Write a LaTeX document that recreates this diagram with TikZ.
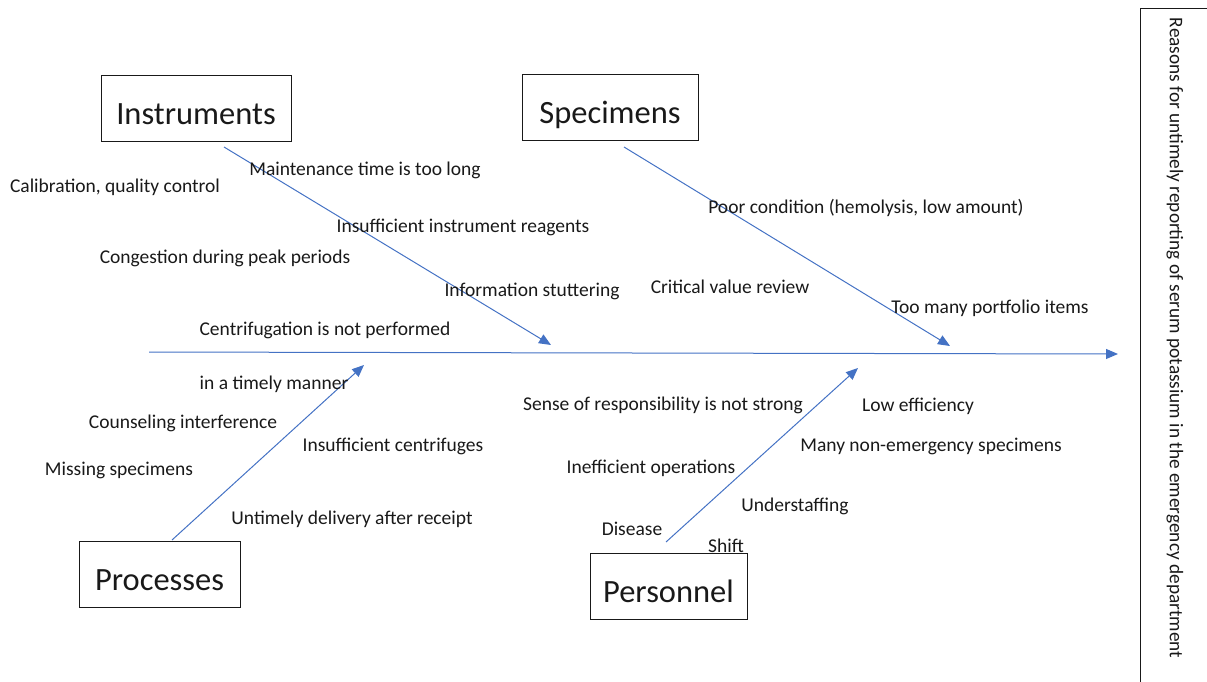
\documentclass[tikz,border=0pt]{standalone}
\usepackage{fontspec}
\setmainfont{Carlito}
\usetikzlibrary{arrows.meta}
\definecolor{fbblue}{RGB}{68,114,196}
\definecolor{txt}{RGB}{25,25,25}
\begin{document}
\begin{tikzpicture}[x=1pt,y=-1pt,
  cat/.style={draw=txt,line width=0.9pt,minimum height=66pt,inner sep=0pt,text height=34pt,text depth=1pt,text=txt,font=\fontsize{32.5}{38}\selectfont},
  lbl/.style={text=txt,inner sep=0pt,font=\fontsize{19.5}{23}\selectfont},
  bone/.style={draw=fbblue,line width=1pt,-{Triangle[length=12pt,width=10pt]}}]
\useasboundingbox (0,0) rectangle (1207,682);
% category boxes
\node[cat,minimum width=190pt] (instr) at (196,108) {Instruments};
\node[cat,minimum width=176pt] (spec) at (610,107.5) {Specimens};
\node[cat,minimum width=161pt] (proc) at (159.5,574) {Processes};
\node[cat,minimum width=157pt] (pers) at (668.5,586) {Personnel};
% effect box
\draw[txt,line width=0.9pt] (1207,8) -- (1140,8) -- (1140,682);
\node[lbl,rotate=-90,font=\fontsize{19.3}{23}\selectfont] (effect) at (1175,338) {Reasons for untimely reporting of serum potassium in the emergency department};
% spine
\coordinate (s0) at (149,352);
\coordinate (s1) at (1118,354);
\draw[bone] (s0) -- (s1);
% bones
\coordinate (i0) at (224,147);  \coordinate (i1) at (551,345);
\coordinate (p0) at (624,147);  \coordinate (p1) at (950,346);
\coordinate (r0) at (172,540);  \coordinate (r1) at (364,365);
\coordinate (e0) at (666,542);  \coordinate (e1) at (858,368);
\draw[bone] (i0) -- (i1);
\draw[bone] (p0) -- (p1);
\draw[bone] (r0) -- (r1);
\draw[bone] (e0) -- (e1);
% labels
\node[lbl] (l1) at (115,187) {Calibration, quality control};
\node[lbl] (l2) at (365,170) {Maintenance time is too long};
\node[lbl] (l3) at (463,227) {Insufficient instrument reagents};
\node[lbl] (l4) at (225,258) {Congestion during peak periods};
\node[lbl] (l5) at (532,291) {Information stuttering};
\node[lbl] (l6) at (325,330) {Centrifugation is not performed};
\node[lbl] (l7) at (274,384) {in a timely manner};
\node[lbl] (l8) at (183,423) {Counseling interference};
\node[lbl] (l9) at (119,470) {Missing specimens};
\node[lbl] (l10) at (393,446) {Insufficient centrifuges};
\node[lbl] (l11) at (352,519) {Untimely delivery after receipt};
\node[lbl] (l12) at (866,208) {Poor condition (hemolysis, low amount)};
\node[lbl] (l13) at (730,287) {Critical value review};
\node[lbl] (l14) at (990,308) {Too many portfolio items};
\node[lbl] (l15) at (663,405) {Sense of responsibility is not strong};
\node[lbl] (l16) at (918,406) {Low efficiency};
\node[lbl] (l17) at (931,446) {Many non-emergency specimens};
\node[lbl] (l18) at (651,468) {Inefficient operations};
\node[lbl] (l19) at (795,506) {Understaffing};
\node[lbl] (l20) at (632,529) {Disease};
\node[lbl] (l21) at (726,546) {Shift};
\end{tikzpicture}
\end{document}
